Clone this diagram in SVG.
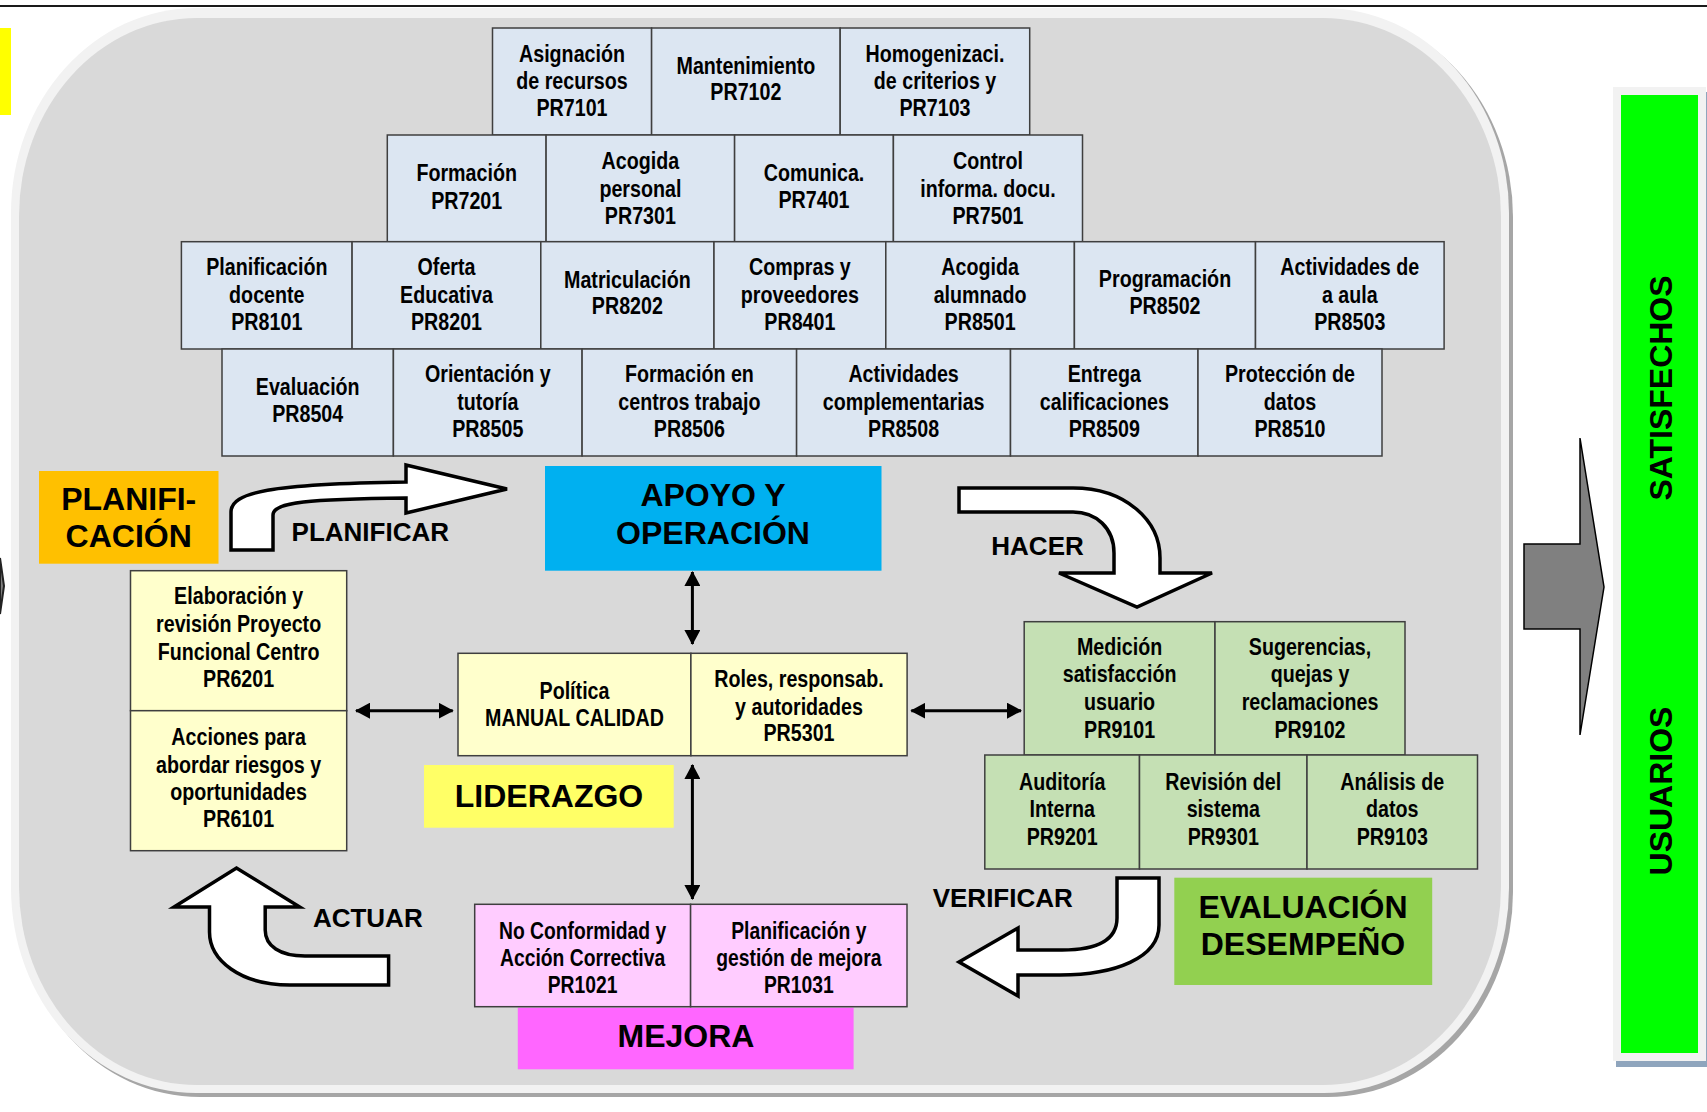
<svg xmlns="http://www.w3.org/2000/svg" width="1707" height="1112" viewBox="0 0 1707 1112">
<style>
.pb{fill:#dce6f2;stroke:#3f3f3f;stroke-width:1.5}
.yb{fill:#ffffcc;stroke:#3f3f3f;stroke-width:1.5}
.gb{fill:#c5e0b4;stroke:#3f3f3f;stroke-width:1.5}
.kb{fill:#ffccff;stroke:#3f3f3f;stroke-width:1.5}
.t{font-family:'Liberation Sans',Arial,sans-serif;font-weight:bold;font-size:24px;fill:#000;text-anchor:middle}
.t2{font-family:'Liberation Sans',Arial,sans-serif;font-weight:bold;font-size:23px;fill:#000;text-anchor:middle}
.L{font-family:'Liberation Sans',Arial,sans-serif;font-weight:bold;font-size:32px;fill:#000;text-anchor:middle}
.a{font-family:'Liberation Sans',Arial,sans-serif;font-weight:bold;font-size:26px;fill:#000}
.ba{fill:#fff;stroke:#000;stroke-width:3.5;stroke-linejoin:miter}
.dl{stroke:#000;stroke-width:3;fill:none;marker-start:url(#ah);marker-end:url(#ah)}
</style>
<defs>
<marker id="ah" viewBox="0 0 15 16" refX="14" refY="8" markerWidth="15" markerHeight="16" markerUnits="userSpaceOnUse" orient="auto-start-reverse">
<path d="M0,0 L15,8 L0,16 Z" fill="#000"/>
</marker>
</defs>
<rect width="1707" height="1112" fill="#fff"/>
<line x1="0" y1="6" x2="1707" y2="6" stroke="#1a1a1a" stroke-width="2"/>
<rect x="0" y="28" width="11" height="87" fill="#ffff00"/>
<polygon points="0,558 4,586 0,614" fill="#808080" stroke="#222" stroke-width="2"/>

<g id="panel">
<rect x="15" y="12" width="1498" height="1085" rx="185" ry="205" fill="#a6a6a6"/>
<rect x="11" y="8" width="1498" height="1085" rx="185" ry="205" fill="#f2f2f2"/>
<rect x="19" y="18" width="1482" height="1067" rx="178" ry="198" fill="#d9d9d9"/>
</g>

<g id="usuarios">
<rect x="1616" y="92" width="91" height="975" fill="#8fa5bd"/>
<rect x="1613" y="87" width="93" height="974" fill="#f2f2f2"/>
<rect x="1621" y="95" width="77" height="958" fill="#00ff00"/>
<text class="L" transform="translate(1672,388) rotate(-90)">SATISFECHOS</text>
<text class="L" transform="translate(1672,791) rotate(-90)">USUARIOS</text>
</g>
<g id="salida">
<path d="M1524,544 L1580,544 L1580,438 L1604,587 L1580,735 L1580,629 L1524,629 Z" fill="#808080" stroke="#000" stroke-width="1.5"/>
</g>

<g id="PR7101"><rect class="pb" x="492.5" y="28" width="159.1" height="107"/><g transform="translate(572 0) scale(.82 1)"><text class="t" y="62">Asignación</text><text class="t" y="89">de recursos</text><text class="t" y="116">PR7101</text></g></g>
<g id="PR7102"><rect class="pb" x="651.6" y="28" width="188.6" height="107"/><g transform="translate(745.9 0) scale(.82 1)"><text class="t" y="73.6">Mantenimiento</text><text class="t" y="100.3">PR7102</text></g></g>
<g id="PR7103"><rect class="pb" x="840.2" y="28" width="189.5" height="107"/><g transform="translate(935 0) scale(.82 1)"><text class="t" y="62">Homogenizaci.</text><text class="t" y="89">de criterios y</text><text class="t" y="116">PR7103</text></g></g>

<g id="PR7201"><rect class="pb" x="387.3" y="135" width="158.8" height="106.7"/><g transform="translate(466.7 0) scale(.82 1)"><text class="t" y="181.3">Formación</text><text class="t" y="208.6">PR7201</text></g></g>
<g id="PR7301"><rect class="pb" x="546.1" y="135" width="188.5" height="106.7"/><g transform="translate(640.4 0) scale(.82 1)"><text class="t" y="168.6">Acogida</text><text class="t" y="197">personal</text><text class="t" y="223.6">PR7301</text></g></g>
<g id="PR7401"><rect class="pb" x="734.6" y="135" width="158.8" height="106.7"/><g transform="translate(814 0) scale(.82 1)"><text class="t" y="181">Comunica.</text><text class="t" y="208">PR7401</text></g></g>
<g id="PR7501"><rect class="pb" x="893.4" y="135" width="189.1" height="106.7"/><g transform="translate(988 0) scale(.82 1)"><text class="t" y="168.6">Control</text><text class="t" y="197">informa. docu.</text><text class="t" y="223.6">PR7501</text></g></g>

<g id="PR8101"><rect class="pb" x="181.4" y="241.7" width="170.7" height="107.3"/><g transform="translate(266.8 0) scale(.82 1)"><text class="t" y="275.3">Planificación</text><text class="t" y="303">docente</text><text class="t" y="330.3">PR8101</text></g></g>
<g id="PR8201"><rect class="pb" x="352.1" y="241.7" width="188.7" height="107.3"/><g transform="translate(446.5 0) scale(.82 1)"><text class="t" y="275.3">Oferta</text><text class="t" y="303">Educativa</text><text class="t" y="330.3">PR8201</text></g></g>
<g id="PR8202"><rect class="pb" x="540.8" y="241.7" width="173.2" height="107.3"/><g transform="translate(627.4 0) scale(.82 1)"><text class="t" y="288">Matriculación</text><text class="t" y="314.5">PR8202</text></g></g>
<g id="PR8401"><rect class="pb" x="714" y="241.7" width="171.8" height="107.3"/><g transform="translate(799.9 0) scale(.82 1)"><text class="t" y="275.3">Compras y</text><text class="t" y="303">proveedores</text><text class="t" y="330.3">PR8401</text></g></g>
<g id="PR8501"><rect class="pb" x="885.8" y="241.7" width="188.6" height="107.3"/><g transform="translate(980.1 0) scale(.82 1)"><text class="t" y="275.3">Acogida</text><text class="t" y="303">alumnado</text><text class="t" y="330.3">PR8501</text></g></g>
<g id="PR8502"><rect class="pb" x="1074.4" y="241.7" width="181.1" height="107.3"/><g transform="translate(1165 0) scale(.82 1)"><text class="t" y="287.5">Programación</text><text class="t" y="314">PR8502</text></g></g>
<g id="PR8503"><rect class="pb" x="1255.5" y="241.7" width="188.6" height="107.3"/><g transform="translate(1349.8 0) scale(.82 1)"><text class="t" y="275.3">Actividades de</text><text class="t" y="303">a aula</text><text class="t" y="330.3">PR8503</text></g></g>

<g id="PR8504"><rect class="pb" x="222" y="349" width="171.4" height="107"/><g transform="translate(307.7 0) scale(.82 1)"><text class="t" y="395.3">Evaluación</text><text class="t" y="422">PR8504</text></g></g>
<g id="PR8505"><rect class="pb" x="393.4" y="349" width="188.7" height="107"/><g transform="translate(487.8 0) scale(.82 1)"><text class="t" y="382">Orientación y</text><text class="t" y="409.6">tutoría</text><text class="t" y="437">PR8505</text></g></g>
<g id="PR8506"><rect class="pb" x="582.1" y="349" width="214.5" height="107"/><g transform="translate(689.4 0) scale(.82 1)"><text class="t" y="382.5">Formación en</text><text class="t" y="410">centros trabajo</text><text class="t" y="437">PR8506</text></g></g>
<g id="PR8508"><rect class="pb" x="796.6" y="349" width="213.9" height="107"/><g transform="translate(903.6 0) scale(.82 1)"><text class="t" y="382.5">Actividades</text><text class="t" y="410">complementarias</text><text class="t" y="437">PR8508</text></g></g>
<g id="PR8509"><rect class="pb" x="1010.5" y="349" width="187.5" height="107"/><g transform="translate(1104.3 0) scale(.82 1)"><text class="t" y="382.5">Entrega</text><text class="t" y="410">calificaciones</text><text class="t" y="437">PR8509</text></g></g>
<g id="PR8510"><rect class="pb" x="1198" y="349" width="184" height="107"/><g transform="translate(1290 0) scale(.82 1)"><text class="t" y="382.5">Protección de</text><text class="t" y="410">datos</text><text class="t" y="437">PR8510</text></g></g>

<g id="planificacion"><rect x="39" y="471" width="179.5" height="92.7" fill="#ffc000"/><text class="L" x="128.7" y="510">PLANIFI-</text><text class="L" x="128.7" y="547">CACIÓN</text></g>
<g id="apoyo"><rect x="545" y="466" width="336.5" height="104.7" fill="#00b0f0"/><text class="L" x="713" y="506">APOYO Y</text><text class="L" x="713" y="544">OPERACIÓN</text></g>
<g id="liderazgo"><rect x="424" y="765" width="249.7" height="62.7" fill="#ffff66"/><text class="L" x="549" y="807">LIDERAZGO</text></g>
<g id="evaluacion"><rect x="1174.3" y="877.7" width="257.9" height="107.3" fill="#92d050"/><text class="L" x="1303" y="918.3">EVALUACIÓN</text><text class="L" x="1303" y="955">DESEMPEÑO</text></g>
<g id="mejora"><rect x="517.8" y="1007.7" width="335.8" height="61.6" fill="#ff66ff"/><text class="L" x="686" y="1047.3">MEJORA</text></g>

<g id="PR6201"><rect class="yb" x="130.5" y="570.7" width="216.2" height="140"/><g transform="translate(238.6 0) scale(.82 1)"><text class="t" y="604.3">Elaboración y</text><text class="t" y="632">revisión Proyecto</text><text class="t" y="659.6">Funcional Centro</text><text class="t" y="686.6">PR6201</text></g></g>
<g id="PR6101"><rect class="yb" x="130.5" y="710.7" width="216.2" height="140"/><g transform="translate(238.6 0) scale(.82 1)"><text class="t" y="745.3">Acciones para</text><text class="t" y="772.6">abordar riesgos y</text><text class="t" y="800.3">oportunidades</text><text class="t" y="827">PR6101</text></g></g>

<g id="politica"><rect class="yb" x="458" y="653.3" width="232.9" height="102.4"/><g transform="translate(574.5 0) scale(.82 1)"><text class="t" y="698.6">Política</text><text class="t" y="726.3">MANUAL CALIDAD</text></g></g>
<g id="PR5301"><rect class="yb" x="690.9" y="653.3" width="216.2" height="102.4"/><g transform="translate(799 0) scale(.82 1)"><text class="t" y="687">Roles, responsab.</text><text class="t" y="714.6">y autoridades</text><text class="t" y="741.3">PR5301</text></g></g>

<g id="PR9101"><rect class="gb" x="1024.2" y="621.7" width="190.8" height="133.3"/><g transform="translate(1119.6 0) scale(.82 1)"><text class="t" y="654.6">Medición</text><text class="t" y="682">satisfacción</text><text class="t" y="709.6">usuario</text><text class="t" y="738">PR9101</text></g></g>
<g id="PR9102"><rect class="gb" x="1215" y="621.7" width="190" height="133.3"/><g transform="translate(1310 0) scale(.82 1)"><text class="t" y="654.6">Sugerencias,</text><text class="t" y="682">quejas y</text><text class="t" y="709.6">reclamaciones</text><text class="t" y="738">PR9102</text></g></g>
<g id="PR9201"><rect class="gb" x="984.8" y="755" width="154.7" height="114"/><g transform="translate(1062.2 0) scale(.82 1)"><text class="t" y="790.3">Auditoría</text><text class="t" y="817">Interna</text><text class="t" y="844.6">PR9201</text></g></g>
<g id="PR9301"><rect class="gb" x="1139.5" y="755" width="167.5" height="114"/><g transform="translate(1223.3 0) scale(.82 1)"><text class="t" y="790.3">Revisión del</text><text class="t" y="817">sistema</text><text class="t" y="844.6">PR9301</text></g></g>
<g id="PR9103"><rect class="gb" x="1307" y="755" width="170.5" height="114"/><g transform="translate(1392.3 0) scale(.82 1)"><text class="t" y="790.3">Análisis de</text><text class="t" y="817">datos</text><text class="t" y="844.6">PR9103</text></g></g>

<g id="PR1021"><rect class="kb" x="474.7" y="904.3" width="215.9" height="102.4"/><g transform="translate(582.6 0) scale(.84 1)"><text class="t2" y="938.6">No Conformidad y</text><text class="t2" y="966">Acción Correctiva</text><text class="t2" y="992.6">PR1021</text></g></g>
<g id="PR1031"><rect class="kb" x="690.6" y="904.3" width="216.4" height="102.4"/><g transform="translate(798.8 0) scale(.84 1)"><text class="t2" y="938.6">Planificación y</text><text class="t2" y="966">gestión de mejora</text><text class="t2" y="992.6">PR1031</text></g></g>

<g id="connectors">
<line class="dl" x1="692.4" y1="572" x2="692.4" y2="644"/>
<line class="dl" x1="692.4" y1="765" x2="692.4" y2="899"/>
<line class="dl" x1="356" y1="710.7" x2="452.7" y2="710.7"/>
<line class="dl" x1="911.3" y1="710.7" x2="1021" y2="710.7"/>

<path class="ba" d="M231,550 L231,512 C231,492 270,484 406,482 L406,465 L507,489 L406,513 L406,498 C310,499 273,502 273,515 L273,550 Z"/>
<text class="a" x="291.6" y="540.7">PLANIFICAR</text>

<path class="ba" d="M959,488 L1073,488 C1125,488 1160,520 1160,558 L1160,573 L1212,573 L1137,607 L1059,573 L1114,573 L1114,553 C1114,528 1096,512 1073,512 L959,512 Z"/>
<text class="a" x="991.3" y="555">HACER</text>

<path class="ba" d="M1117,878 L1159,878 L1159,925 C1159,958 1115,975 1060,975 L1018,975 L1018,996 L959,962 L1018,928 L1018,950 L1062,950 C1098,950 1117,940 1117,918 Z"/>
<text class="a" x="932.7" y="906.7">VERIFICAR</text>

<path class="ba" d="M388.6,985 L290,985 C240,985 209.5,960 209.5,932 L209.5,907 L174,907 L236.5,868 L299.7,907 L265.2,907 L265.2,930 C265.2,946 280,956 305,956 L388.6,956 Z"/>
<text class="a" x="312.9" y="926.7">ACTUAR</text>
</g>
</svg>
